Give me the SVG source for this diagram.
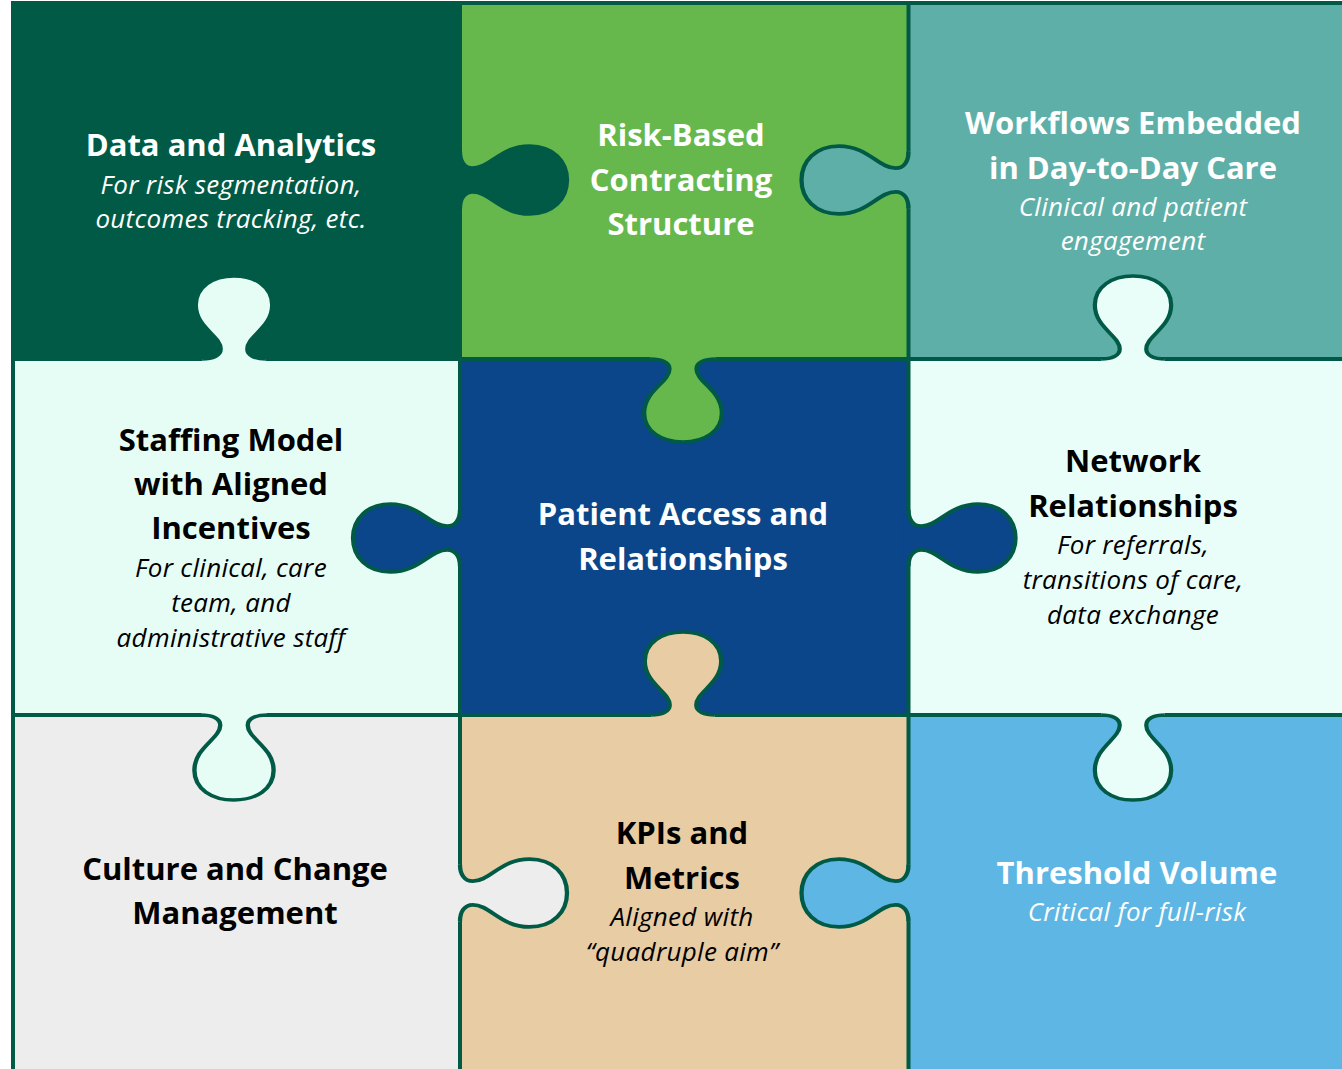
<svg xmlns="http://www.w3.org/2000/svg" xmlns:xlink="http://www.w3.org/1999/xlink" width="1342" height="1069" viewBox="0 0 1342 1069">
<style>
.t{font-family:"Open Sans","Noto Sans","Liberation Sans",sans-serif;font-weight:700;font-size:31px;text-anchor:middle}
.s{font-family:"Open Sans","Noto Sans","Liberation Sans",sans-serif;font-style:italic;font-size:26px;letter-spacing:0.3px;text-anchor:middle}
.w{fill:#FFFFFF}
.k{fill:#000000}
.grid{stroke:#005A46;stroke-width:4;fill:none}
.ol{fill:none;stroke:#005A46;stroke-width:4;vector-effect:non-scaling-stroke}
</style>
<defs>
<path id="tabFill" d="M0,-30 C0,-20 4,-12.5 12,-12.5 C28,-12.5 38,-36 65,-36 C87,-36 100,-20 100,0 C100,20 87,36 65,36 C38,36 28,12.5 12,12.5 C4,12.5 0,20 0,30 L-5,30 L-5,-30 Z"/>
<path id="tabLine" d="M0,-30 C0,-20 4,-12.5 12,-12.5 C28,-12.5 38,-36 65,-36 C87,-36 100,-20 100,0 C100,20 87,36 65,36 C38,36 28,12.5 12,12.5 C4,12.5 0,20 0,30"/>
</defs>
<rect x="0" y="0" width="1342" height="1069" fill="#FFFFFF"/>
<g id="pieces">
<rect id="p-data" x="13" y="3" width="447" height="356" fill="#005A46"/>
<rect id="p-risk" x="460" y="3" width="448.5" height="356" fill="#66B84C"/>
<rect id="p-workflows" x="908.5" y="3" width="437.5" height="356" fill="#5EAFA8"/>
<rect id="p-staffing" x="13" y="359" width="447" height="356" fill="#E6FDF6"/>
<rect id="p-access" x="460" y="359" width="448.5" height="356" fill="#0A4689"/>
<rect id="p-network" x="908.5" y="359" width="437.5" height="356" fill="#E9FEF8"/>
<rect id="p-culture" x="13" y="715" width="447" height="356" fill="#EDEDED"/>
<rect id="p-kpis" x="460" y="715" width="448.5" height="356" fill="#E8CCA3"/>
<rect id="p-threshold" x="908.5" y="715" width="437.5" height="356" fill="#5DB6E3"/>
</g>
<g id="connectors">
<rect class="grid" x="13" y="3" width="1333" height="1068"/>
<line class="grid" x1="460" y1="3" x2="460" y2="1071"/>
<line class="grid" x1="908.5" y1="3" x2="908.5" y2="1071"/>
<line class="grid" x1="13" y1="359" x2="1346" y2="359"/>
<line class="grid" x1="13" y1="715" x2="1346" y2="715"/>
</g>
<g id="tabs">
<g id="tab-data-risk" fill="#005A46" transform="translate(460,180) scale(1.07,0.944)"><use xlink:href="#tabFill"/><use xlink:href="#tabLine" class="ol"/></g>
<g id="tab-staffing-data" fill="#E6FDF6" transform="translate(234,359) rotate(-90) scale(0.83,1.06)"><use xlink:href="#tabFill"/><use xlink:href="#tabLine" class="ol"/></g>
<g id="tab-workflows-risk" fill="#5EAFA8" transform="translate(908.5,180) scale(-1.07,0.944)"><use xlink:href="#tabFill"/><use xlink:href="#tabLine" class="ol"/></g>
<g id="tab-network-workflows" fill="#E9FEF8" transform="translate(1133,359) rotate(-90) scale(0.83,1.06)"><use xlink:href="#tabFill"/><use xlink:href="#tabLine" class="ol"/></g>
<g id="tab-risk-access" fill="#66B84C" transform="translate(683,359) rotate(90) scale(0.83,1.08)"><use xlink:href="#tabFill"/><use xlink:href="#tabLine" class="ol"/></g>
<g id="tab-access-staffing" fill="#0A4689" transform="translate(460,538) scale(-1.07,0.944)"><use xlink:href="#tabFill"/><use xlink:href="#tabLine" class="ol"/></g>
<g id="tab-access-network" fill="#0A4689" transform="translate(908.5,538) scale(1.07,0.944)"><use xlink:href="#tabFill"/><use xlink:href="#tabLine" class="ol"/></g>
<g id="tab-kpis-access" fill="#E8CCA3" transform="translate(683,715) rotate(-90) scale(0.83,1.06)"><use xlink:href="#tabFill"/><use xlink:href="#tabLine" class="ol"/></g>
<g id="tab-staffing-culture" fill="#E6FDF6" transform="translate(234,715) rotate(90) scale(0.85,1.1)"><use xlink:href="#tabFill"/><use xlink:href="#tabLine" class="ol"/></g>
<g id="tab-culture-kpis" fill="#EDEDED" transform="translate(460,893) scale(1.07,0.944)"><use xlink:href="#tabFill"/><use xlink:href="#tabLine" class="ol"/></g>
<g id="tab-threshold-kpis" fill="#5DB6E3" transform="translate(908.5,893) scale(-1.07,0.944)"><use xlink:href="#tabFill"/><use xlink:href="#tabLine" class="ol"/></g>
<g id="tab-network-threshold" fill="#E9FEF8" transform="translate(1133,715) rotate(90) scale(0.85,1.06)"><use xlink:href="#tabFill"/><use xlink:href="#tabLine" class="ol"/></g>
</g>
<g id="node-data">
<text class="t w" x="231" y="156">Data and Analytics</text>
<text class="s w" x="231" y="194">For risk segmentation,</text>
<text class="s w" x="231" y="228">outcomes tracking, etc.</text>
</g>
<g id="node-risk">
<text class="t w" x="681" y="146">Risk-Based</text>
<text class="t w" x="681" y="191">Contracting</text>
<text class="t w" x="681" y="235">Structure</text>
</g>
<g id="node-workflows">
<text class="t w" x="1133" y="134">Workflows Embedded</text>
<text class="t w" x="1133" y="179">in Day-to-Day Care</text>
<text class="s w" x="1133" y="216">Clinical and patient</text>
<text class="s w" x="1133" y="250">engagement</text>
</g>
<g id="node-staffing">
<text class="t k" x="231" y="451">Staffing Model</text>
<text class="t k" x="231" y="495">with Aligned</text>
<text class="t k" x="231" y="539">Incentives</text>
<text class="s k" x="231" y="577">For clinical, care</text>
<text class="s k" x="231" y="612">team, and</text>
<text class="s k" x="231" y="647">administrative staff</text>
</g>
<g id="node-access">
<text class="t w" x="683" y="525">Patient Access and</text>
<text class="t w" x="683" y="570">Relationships</text>
</g>
<g id="node-network">
<text class="t k" x="1133" y="472">Network</text>
<text class="t k" x="1133" y="517">Relationships</text>
<text class="s k" x="1133" y="554">For referrals,</text>
<text class="s k" x="1133" y="589">transitions of care,</text>
<text class="s k" x="1133" y="624">data exchange</text>
</g>
<g id="node-culture">
<text class="t k" x="235" y="880">Culture and Change</text>
<text class="t k" x="235" y="924">Management</text>
</g>
<g id="node-kpis">
<text class="t k" x="682" y="844">KPIs and</text>
<text class="t k" x="682" y="889">Metrics</text>
<text class="s k" x="682" y="926">Aligned with</text>
<text class="s k" x="682" y="961">“quadruple aim”</text>
</g>
<g id="node-threshold">
<text class="t w" x="1137" y="884">Threshold Volume</text>
<text class="s w" x="1137" y="921">Critical for full-risk</text>
</g>
</svg>
